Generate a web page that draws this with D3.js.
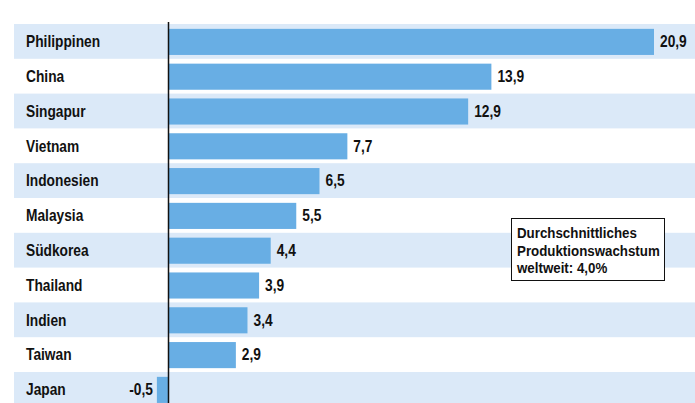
<!DOCTYPE html>
<html>
<head>
<meta charset="utf-8">
<script src="https://cdn.jsdelivr.net/npm/d3@7/dist/d3.min.js"></script>
<style>
  html, body { margin: 0; padding: 0; background: #fff; }
  svg { display: block; }
  text { font-family: "Liberation Sans", Arial, sans-serif; font-weight: bold; fill: #111; }
</style>
</head>
<body>
<svg id="chart" width="695" height="403"></svg>
<script>
const countries = ["Philippinen", "China", "Singapur", "Vietnam", "Indonesien", "Malaysia", "Südkorea", "Thailand", "Indien", "Taiwan", "Japan"];
const growth = [20.9, 13.9, 12.9, 7.7, 6.5, 5.5, 4.4, 3.9, 3.4, 2.9, -0.5];
const noteLines = ["Durchschnittliches", "Produktionswachstum", "weltweit: 4,0%"];

(function () {
const svg = d3.select("#chart");
const W = 695, H = 403;
const y0 = 24, step = 34.8;
const SX = 0.86; // horizontal condensing of text

const y = d3.scaleBand().domain(countries).range([y0, y0 + step * countries.length]).padding(0);
const x = d3.scaleLinear().domain([0, 20.9]).range([168.5, 654]);
const fmt = v => d3.format(".1f")(v).replace(".", ",").replace("\u2212", "-");

const data = countries.map((c, i) => ({ c, v: growth[i], i }));

// stripes
svg.append("g").selectAll("rect").data(data.filter(d => d.i % 2 === 0)).join("rect")
  .attr("x", 14).attr("width", W - 14)
  .attr("y", d => y(d.c)).attr("height", y.bandwidth())
  .attr("fill", "#dbe9f8");

// bars
const bh = y.bandwidth() * 0.75;
svg.append("g").selectAll("rect").data(data).join("rect")
  .attr("x", d => Math.min(x(0), x(d.v)))
  .attr("width", d => Math.abs(x(d.v) - x(0)))
  .attr("y", d => y(d.c) + (y.bandwidth() - bh) / 2 + 0.5)
  .attr("height", bh)
  .attr("fill", "#68aee4");

// zero line
svg.append("line").attr("x1", x(0)).attr("x2", x(0)).attr("y1", 22).attr("y2", H)
  .attr("stroke", "#111").attr("stroke-width", 1.5);

// category labels
svg.append("g").selectAll("text").data(data).join("text")
  .attr("transform", d => `translate(26,${y(d.c) + y.bandwidth() / 2}) scale(${SX},1)`)
  .attr("dy", "0.36em").attr("font-size", 16)
  .text(d => d.c);

// value labels
svg.append("g").selectAll("text").data(data).join("text")
  .attr("transform", d => `translate(${d.v >= 0 ? x(d.v) + 6 : x(d.v) - 4},${y(d.c) + y.bandwidth() / 2}) scale(${SX},1)`)
  .attr("text-anchor", d => d.v >= 0 ? "start" : "end")
  .attr("dy", "0.36em").attr("font-size", 16)
  .text(d => fmt(d.v));

// note box
const note = svg.append("g");
note.append("rect").attr("x", 511.5).attr("y", 218.5).attr("width", 153).attr("height", 62)
  .attr("fill", "#fff").attr("stroke", "#111").attr("stroke-width", 1);
note.selectAll("text").data(noteLines).join("text")
  .attr("transform", (d, i) => `translate(517,${238 + i * 17.5}) scale(${SX},1)`)
  .attr("font-size", 15.5)
  .text(d => d);
})();
</script>
</body>
</html>
